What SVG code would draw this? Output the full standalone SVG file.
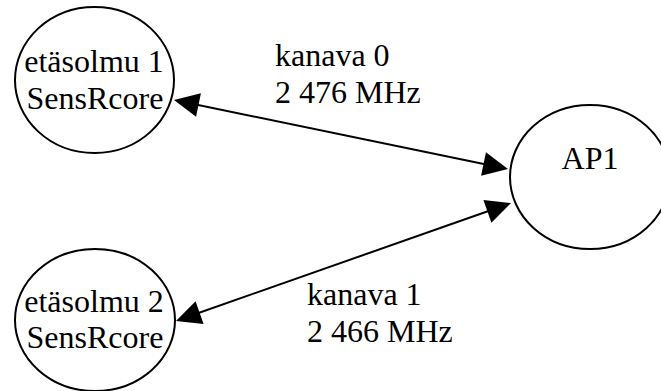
<svg xmlns="http://www.w3.org/2000/svg" width="661" height="391" viewBox="0 0 661 391">
  <style>
    .node { fill: #ffffff; stroke: #000000; stroke-width: 2; }
    text { font-family: 'Liberation Serif', 'Times New Roman', Times, serif; font-size: 32px; fill: #000000; }
    .mid { text-anchor: middle; }
    .edge { stroke: #000000; stroke-width: 2; fill: none; marker-start: url(#arrow); marker-end: url(#arrow); }
  </style>
  <defs>
    <marker id="arrow" markerUnits="userSpaceOnUse" markerWidth="26" markerHeight="24" viewBox="0 0 25 24" refX="20" refY="12" orient="auto-start-reverse">
      <path d="M0,0 L25,12 L0,24 z" fill="#000000"/>
    </marker>
  </defs>
  <rect width="661" height="391" fill="#ffffff"/>
  <g id="node-etasolmu1">
    <ellipse class="node" cx="94.5" cy="80" rx="79.5" ry="73"/>
    <text class="mid" x="94" y="72" font-family="Liberation Serif, serif">etäsolmu 1</text>
    <text class="mid" x="95" y="109" font-family="Liberation Serif, serif">SensRcore</text>
  </g>
  <g id="node-etasolmu2">
    <ellipse class="node" cx="95" cy="320" rx="80" ry="71"/>
    <text class="mid" x="94" y="312" font-family="Liberation Serif, serif">etäsolmu 2</text>
    <text class="mid" x="95" y="348" font-family="Liberation Serif, serif">SensRcore</text>
  </g>
  <g id="node-ap1">
    <ellipse class="node" cx="590" cy="177" rx="80" ry="72"/>
    <text class="mid" x="590" y="169" font-family="Liberation Serif, serif">AP1</text>
  </g>
  <g id="connectors">
    <line class="edge" x1="178.9" y1="101" x2="503.1" y2="168"/>
    <line class="edge" x1="180.7" y1="319.3" x2="506.3" y2="204.7"/>
    <text x="275" y="66" font-family="Liberation Serif, serif">kanava 0</text>
    <text x="275" y="103" font-family="Liberation Serif, serif">2 476 MHz</text>
    <text x="307" y="305" font-family="Liberation Serif, serif">kanava 1</text>
    <text x="307" y="342" font-family="Liberation Serif, serif">2 466 MHz</text>
  </g>
</svg>
